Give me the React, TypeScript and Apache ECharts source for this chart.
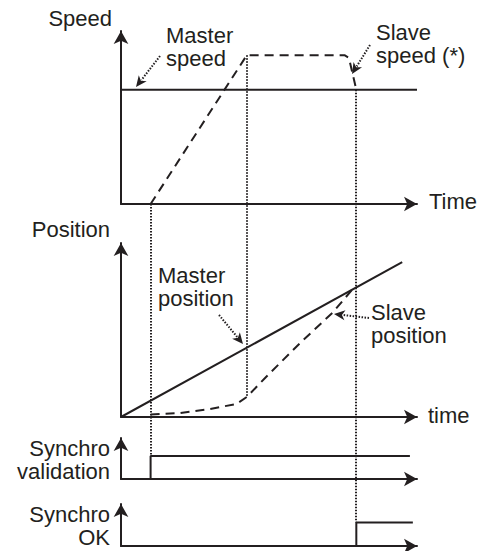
import React, { useEffect, useRef } from "react";
import * as echarts from "echarts";

// ---- data (time units on a shared 0..10 axis) ----
const timeEvents = [1, 4.25, 7.95]; // sync validated, slave reaches top speed, sync OK
const speedMaster = [[0, 6.6], [10, 6.6]];
const speedSlave = [[1, 0], [4.25, 8.6], [7.55, 8.6], [7.7, 8.45], [7.95, 6.6]];
const positionMaster = [[0, 0], [9.5, 8.9]];
const positionSlave = [
  [1, 0.15], [2, 0.23], [3, 0.46], [3.9, 0.75], [4.25, 1.15],
  [4.9, 2.3], [6.05, 4.25], [7.15, 6.0], [7.8, 7.3],
];
const synchroValidation = [[0, 0], [1, 0], [1, 5.6], [9.76, 5.6]];
const synchroOk = [[0, 0], [7.95, 0], [7.95, 5.6], [9.86, 5.6]];

const INK = "#231f20";
const FONT_SIZE = 22;
const LINE_H = 23;
const FONT_FAMILY = '"Liberation Sans", Arial, sans-serif';

export default function App() {
  const ref = useRef<HTMLDivElement>(null);
  useEffect(() => {
    if (!ref.current) return;
    const chart = echarts.init(ref.current, undefined, { renderer: "svg" });
    const grids = [
      { left: 121, top: 31, width: 296, height: 173 },
      { left: 121, top: 243, width: 296, height: 174 },
      { left: 121, top: 438, width: 296, height: 41 },
      { left: 121, top: 504, width: 296, height: 42 },
    ];
    const axisLine = {
      show: true,
      onZero: false,
      symbol: ["none", "arrow"],
      symbolSize: [11, 13],
      lineStyle: { color: INK, width: 2 },
    };
    const axisCommon = {
      type: "value",
      min: 0,
      max: 10,
      axisLine,
      axisTick: { show: false },
      axisLabel: { show: false },
      splitLine: { show: false },
    };
    const line = (data: number[][], idx: number, dashed: boolean) => ({
      type: "line",
      xAxisIndex: idx,
      yAxisIndex: idx,
      data,
      showSymbol: false,
      symbol: "none",
      clip: false,
      lineStyle: { color: INK, width: 2, type: dashed ? [9, 6] : "solid" },
      z: 3,
    });
    chart.setOption({
      animation: false,
      grid: grids,
      xAxis: grids.map((_, i) => ({ ...axisCommon, gridIndex: i })),
      yAxis: grids.map((_, i) => ({ ...axisCommon, gridIndex: i })),
      series: [
        line(speedMaster, 0, false),
        line(speedSlave, 0, true),
        line(positionMaster, 1, false),
        line(positionSlave, 1, true),
        line(synchroValidation, 2, false),
        line(synchroOk, 3, false),
      ],
    });

    const px = (g: number, p: number[]) =>
      chart.convertToPixel({ xAxisIndex: g, yAxisIndex: g }, p) as number[];

    const dotted = (a: number[], b: number[]) => {
      const x = Math.round(a[0]);
      return {
        type: "line",
        shape: { x1: x, y1: a[1], x2: x, y2: b[1] },
        style: { stroke: INK, lineWidth: 2, lineDash: [1.5, 1.5] },
        z: 1,
      };
    };
    const verticals = [
      dotted(px(0, [timeEvents[0], 0]), px(2, [timeEvents[0], synchroValidation[2][1]])),
      dotted(px(0, [timeEvents[1], speedSlave[1][1]]), px(1, [timeEvents[1], positionSlave[4][1]])),
      dotted(px(0, [timeEvents[2], speedMaster[0][1]]), px(3, [timeEvents[2], synchroOk[2][1]])),
    ];

    const pointer = (x1: number, y1: number, x2: number, y2: number) => {
      const dx = x2 - x1, dy = y2 - y1;
      const len = Math.hypot(dx, dy);
      const ux = dx / len, uy = dy / len;
      const hl = 11, hw = 5;
      const bx = x2 - ux * hl, by = y2 - uy * hl;
      return [
        {
          type: "line",
          shape: { x1, y1, x2: bx + ux * 2, y2: by + uy * 2 },
          style: { stroke: INK, lineWidth: 2, lineDash: [1.5, 1.5] },
          z: 5,
        },
        {
          type: "polygon",
          shape: {
            points: [
              [x2, y2],
              [bx - uy * hw, by + ux * hw],
              [bx + ux * 3, by + uy * 3],
              [bx + uy * hw, by - ux * hw],
            ],
          },
          style: { fill: INK },
          z: 5,
        },
      ];
    };

    // text placed by the baseline of its first line
    const txt = (text: string, x: number, baseline: number, align = "left") => ({
      type: "text",
      style: {
        text,
        x,
        y: baseline - LINE_H / 2 - FONT_SIZE * 0.35,
        fontSize: FONT_SIZE,
        fontFamily: FONT_FAMILY,
        fill: INK,
        align,
        verticalAlign: "top",
        lineHeight: LINE_H,
      },
      z: 6,
    });

    chart.setOption({
      graphic: [
        ...verticals,
        ...pointer(160, 56, 136, 87),
        ...pointer(370, 45, 352, 74),
        ...pointer(219, 315, 243, 344),
        ...pointer(369, 318, 334, 314),
        txt("Speed", 112, 26, "right"),
        txt("Master\nspeed", 166, 43.5),
        txt("Slave\nspeed (*)", 376, 40),
        txt("Time", 429, 209),
        txt("Position", 110, 237, "right"),
        txt("Master\nposition", 158, 283),
        txt("Slave\nposition", 371, 320),
        txt("time", 428, 423),
        txt("Synchro\nvalidation", 110, 456, "right"),
        txt("Synchro\nOK", 110, 522.5, "right"),
      ],
    });

    return () => chart.dispose();
  }, []);
  return (
    <div
      ref={ref}
      style={{ position: "fixed", left: 0, top: 0, width: 481, height: 551, background: "#fff" }}
    />
  );
}
